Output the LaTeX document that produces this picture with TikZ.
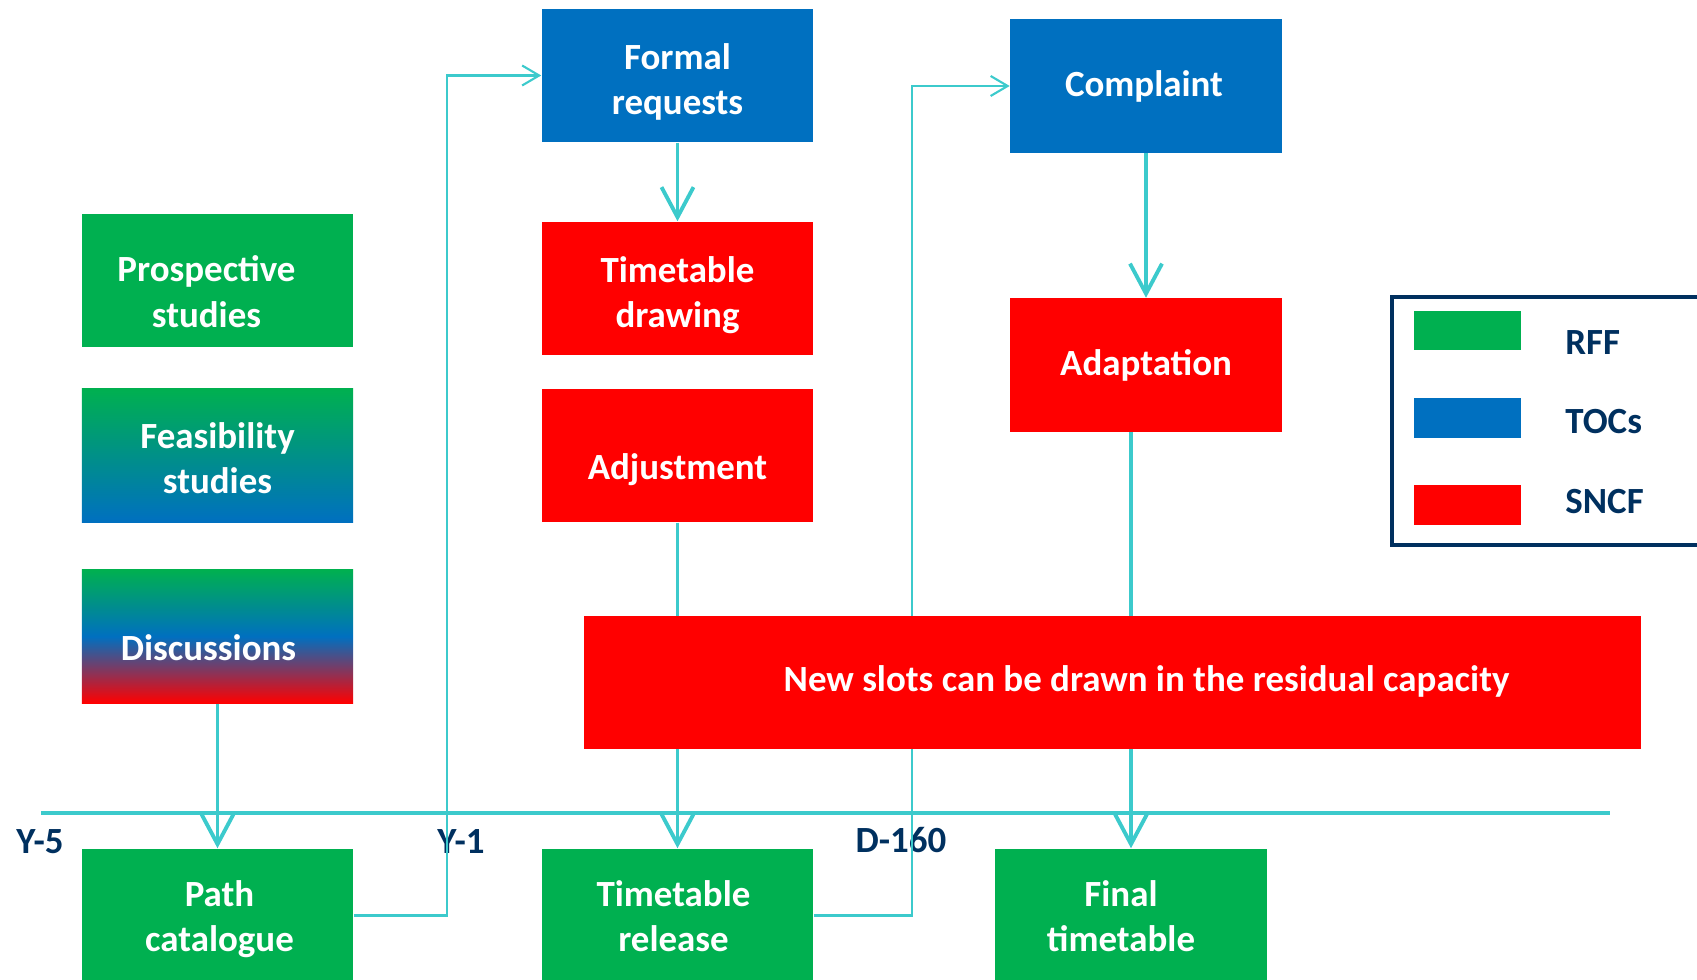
\documentclass[tikz,border=0pt]{standalone}
\usepackage{fontspec}
\setmainfont{Carlito}
\usetikzlibrary{arrows.meta,positioning}

\definecolor{rffgreen}{HTML}{00B050}
\definecolor{tocblue}{HTML}{0070C0}
\definecolor{sncfred}{HTML}{FF0000}
\definecolor{linkcyan}{HTML}{3CCACC}
\definecolor{navy}{HTML}{00305F}

% text set off the centre of its box: dx, dy, lines
\newcommand{\nudge}[3]{\hspace*{#1}\raisebox{#2}[\height][\depth]{\begin{tabular}{@{}c@{}}#3\end{tabular}}\hspace*{-#1}}

\tikzset{
  stage/.style={minimum width=2.71cm, minimum height=1.33cm, inner sep=0pt,
    align=center, text=white, font=\bfseries\fontsize{10.5}{12.8}\selectfont},
  rff/.style={stage, fill=rffgreen},
  toc/.style={stage, fill=tocblue},
  sncf/.style={stage, fill=sncfred},
  flow/.style={linkcyan, line width=1.1pt, -{Straight Barb[length=3mm,width=3.2mm]}},
  jump/.style={linkcyan, line width=0.6pt, -{Straight Barb[length=1.7mm,width=2mm]}},
  milestone/.style={text=navy, font=\bfseries\fontsize{10.5}{12.8}\selectfont},
  swatch/.style={minimum width=1.07cm, minimum height=0.39cm, inner sep=0pt},
}

\begin{document}
\begin{tikzpicture}[x=0.01cm, y=-0.01cm]
  \useasboundingbox (0,0) rectangle (1697,980);

  % early studies
  \node[rff] (prosp) at (217.5,280.5) {\nudge{-0.11cm}{-0.15cm}{Prospective\\studies}};
  \node[stage, top color=rffgreen, bottom color=tocblue] (feas) at (217.5,455.5) {\nudge{0cm}{-0.065cm}{Feasibility\\studies}};
  \node[stage, top color=rffgreen, bottom color=sncfred, middle color=tocblue] (disc) at (217.5,636.5) {\nudge{-0.09cm}{-0.15cm}{Discussions}};

  % requests and drawing
  \node[toc] (formal) at (677.5,75.5) {\nudge{0cm}{-0.075cm}{Formal\\requests}};
  \node[sncf] (drawing) at (677.5,288.5) {\nudge{0cm}{-0.075cm}{Timetable\\drawing}};
  \node[sncf] (adjust) at (677.5,455.5) {\nudge{0cm}{-0.15cm}{Adjustment}};
  \node[toc] (complaint) at (1146,86) {\nudge{-0.02cm}{-0.02cm}{Complaint}};
  \node[sncf] (adapt) at (1146,365) {Adaptation};

  % milestones
  \node[rff] (path) at (217.5,915.5) {\nudge{0.02cm}{-0.045cm}{Path\\catalogue}};
  \node[rff] (release) at (677.5,915.5) {\nudge{-0.04cm}{-0.045cm}{Timetable\\release}};
  \node[rff] (final) at (1131,915.5) {\nudge{-0.1cm}{-0.045cm}{Final\\timetable}};

  % time line
  \coordinate (tstart) at (41,813);
  \coordinate (tend) at (1610,813);
  \coordinate (yone) at (447,813);
  \coordinate (dday) at (912,813);
  \draw[linkcyan, line width=1pt] (tstart) -- (tend);
  \node[milestone] (yfive) at (40,842) {Y-5};
  \node[milestone] (yonelabel) at (461,842) {Y-1};
  \node[milestone] (dlabel) at (901,840) {D-160};

  % connectors
  \draw[jump] (path.east) -| (yone) |- (formal.west);
  \draw[jump] (release.east) -| (dday) |- (complaint.west);
  \draw[flow] (disc.south) -- (path.north);
  \draw[flow] (formal.south) -- (drawing.north);
  \draw[flow] (adjust.south) -- (release.north);
  \draw[flow] (complaint.south) -- (adapt.north);
  \draw[flow] (final.north |- adapt.south) -- (final.north);

  % residual capacity (over the connectors)
  \node[sncf, minimum width=10.57cm] (slots) at (1112.5,682.5) {\nudge{0.34cm}{0cm}{New slots can be drawn in the residual capacity}};

  % legend
  \draw[navy, line width=1.1pt] (1392,297) rectangle (1720,545);
  \node[swatch, fill=rffgreen] (krff) at (1467.5,330.5) {};
  \node[swatch, fill=tocblue] (ktoc) at (1467.5,418) {};
  \node[swatch, fill=sncfred] (ksncf) at (1467.5,505) {};
  \node[milestone, anchor=west] (lrff) at (1553,343) {RFF};
  \node[milestone, anchor=west] (ltoc) at (1553,422) {TOCs};
  \node[milestone, anchor=west] (lsncf) at (1553,502) {SNCF};
\end{tikzpicture}
\end{document}
